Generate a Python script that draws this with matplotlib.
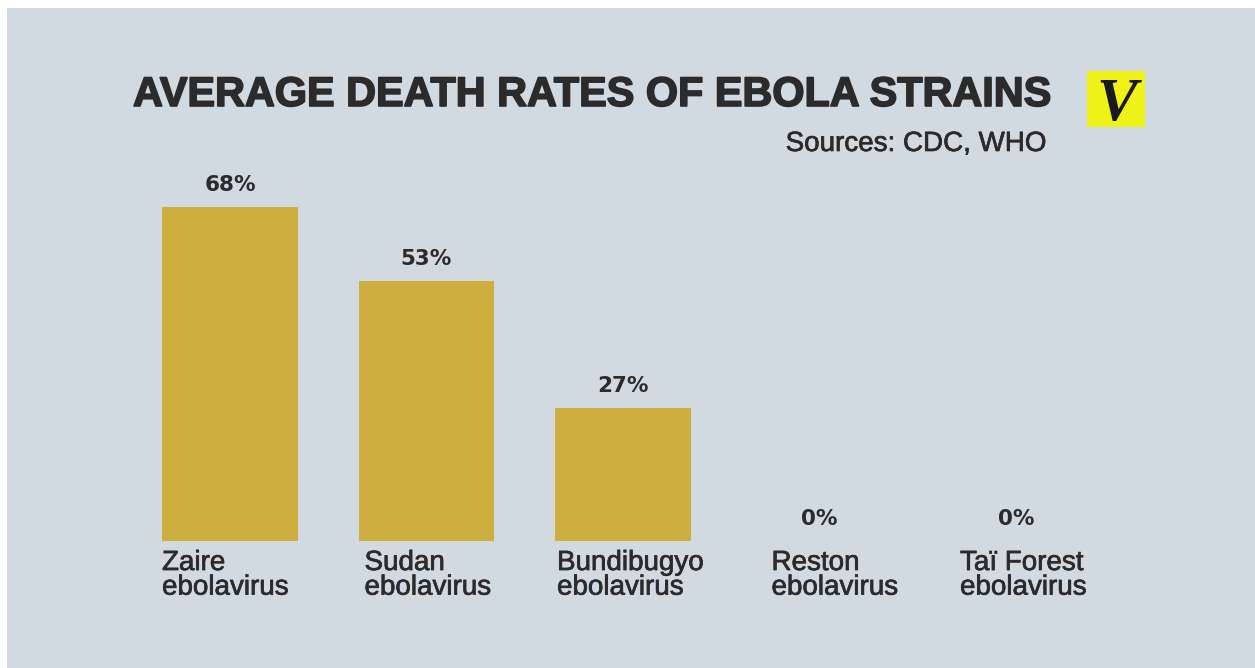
import matplotlib.pyplot as plt
import matplotlib.patheffects as pe
from matplotlib.patches import Rectangle

# Ebola strains and their average case fatality rates (%)
strains = ["Zaire\nebolavirus", "Sudan\nebolavirus", "Bundibugyo\nebolavirus",
           "Reston\nebolavirus", "Taï Forest\nebolavirus"]
death_rates = [68, 53, 27, 0, 0]

BG = "#d2dae1"
BAR = "#cfae40"
INK = "#2b2b2b"
W, H = 1255, 668

fig = plt.figure(figsize=(W / 100, H / 100), dpi=100)
fig.patch.set_facecolor("white")

def px(x, y_top):
    # pixel position (from top-left) -> figure fraction
    return x / W, 1 - y_top / H

def heavier(lw):
    return [pe.withStroke(linewidth=lw, foreground=INK)]

# panel background with a thin white margin on top and left
fig.add_artist(Rectangle((7 / W, 0), 1, 1 - 8 / H, transform=fig.transFigure,
                         facecolor=BG, edgecolor="none", zorder=0))

# bars: unit spacing 196.5px, baseline at y=541px, 100% = 491px
ax = fig.add_axes([131.75 / W, 127 / H, 982.5 / W, 368.25 / H])
ax.set_xlim(-0.5, 4.5)
ax.set_ylim(0, 75)
ax.axis("off")

x = range(len(strains))
ax.bar(x, death_rates, width=0.692, color=BAR, zorder=2)

label_nudge = [0, 6, 2, 20, 12]  # px shift of category labels
for i, (name, v) in enumerate(zip(strains, death_rates)):
    ax.annotate(f"{v}%", (i, v), xytext=(0, 16), textcoords="offset points",
                ha="center", va="center", fontsize=15.5, fontweight="bold",
                family="DejaVu Sans", color=INK)
    ax.annotate(name, (i - 0.346, 0),
                xytext=(label_nudge[i] * 0.72, -6.5), textcoords="offset points",
                ha="left", va="top", fontsize=20, family="Liberation Sans",
                color=INK, linespacing=0.93, annotation_clip=False,
                path_effects=heavier(0.5))

# title and source line
fig.text(*px(133, 106), "AVERAGE DEATH RATES OF EBOLA STRAINS", ha="left",
         va="baseline", fontsize=29.8, fontweight="bold",
         family="Liberation Sans", color=INK, path_effects=heavier(1.2))
fig.text(*px(1046, 151), "Sources: CDC, WHO", ha="right", va="baseline",
         fontsize=20, family="Liberation Sans", color=INK,
         path_effects=heavier(0.5))

# logo badge
fig.add_artist(Rectangle(px(1087, 127), 58 / W, 56 / H, transform=fig.transFigure,
                         facecolor="#eff216", edgecolor="none", zorder=3))
fig.text(*px(1117, 120), "V", ha="center", va="baseline", fontsize=44,
         fontweight="bold", style="italic", family="Liberation Serif",
         color="#1a1a1a", zorder=4)

fig.savefig("out.png", dpi=100, facecolor=fig.get_facecolor())
